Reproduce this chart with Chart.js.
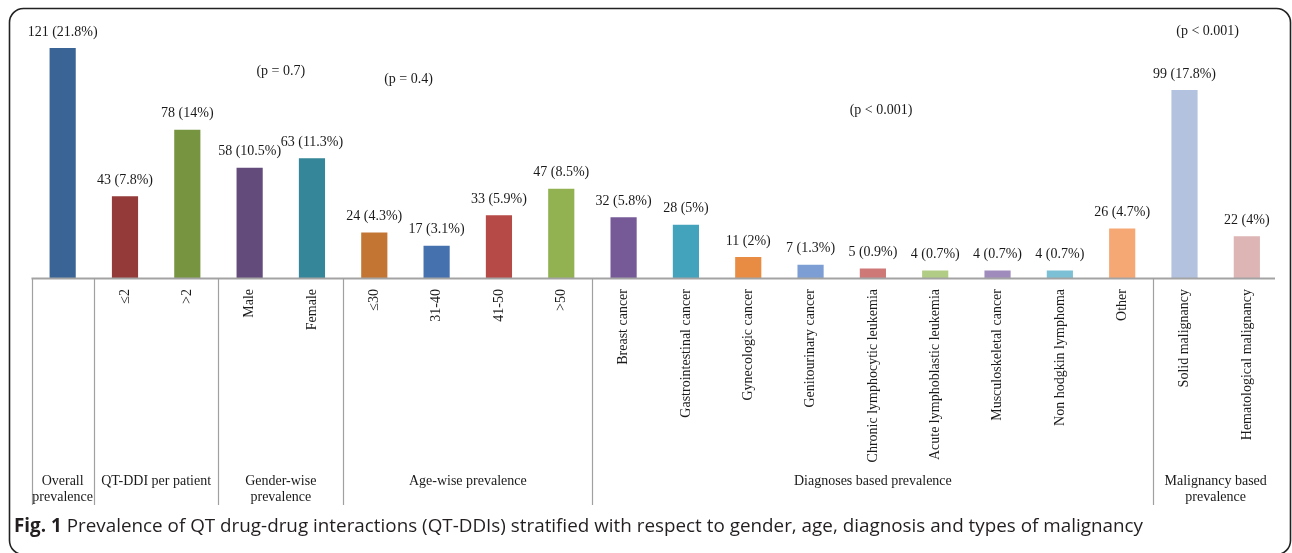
<!DOCTYPE html>
<html>
<head>
<meta charset="utf-8">
<title>Prevalence of QT-DDIs</title>
<script src="https://cdn.jsdelivr.net/npm/chart.js@4/dist/chart.umd.min.js"></script>
<style>
  html, body { margin: 0; padding: 0; background: #ffffff; }
  #wrap { position: relative; width: 1292px; height: 553px; }
</style>
</head>
<body>
<div id="wrap"><canvas id="chart" width="1292" height="553"></canvas></div>
<script>
// Categories (one bar each)
const categories = [
  'Overall', '≤2', '>2', 'Male', 'Female', '≤30', '31-40', '41-50', '>50',
  'Breast cancer', 'Gastrointestinal cancer', 'Gynecologic cancer', 'Genitourinary cancer',
  'Chronic lymphocytic leukemia', 'Acute lymphoblastic leukemia', 'Musculoskeletal cancer',
  'Non hodgkin lymphoma', 'Other', 'Solid malignancy', 'Hematological malignancy'
];
// Rotated labels under the axis (the overall bar has none)
const tickLabels = [
  '', '≤2', '>2', 'Male', 'Female', '≤30', '31-40', '41-50', '>50',
  'Breast cancer', 'Gastrointestinal cancer', 'Gynecologic cancer', 'Genitourinary cancer',
  'Chronic lymphocytic leukemia', 'Acute lymphoblastic leukemia', 'Musculoskeletal cancer',
  'Non hodgkin lymphoma', 'Other', 'Solid malignancy', 'Hematological malignancy'
];
// Number of patients with QT-DDIs and share in percent
const counts   = [121, 43, 78, 58, 63, 24, 17, 33, 47, 32, 28, 11, 7, 5, 4, 4, 4, 26, 99, 22];
const percents = ['21.8', '7.8', '14', '10.5', '11.3', '4.3', '3.1', '5.9', '8.5', '5.8',
                  '5', '2', '1.3', '0.9', '0.7', '0.7', '0.7', '4.7', '17.8', '4'];
const barColors = [
  '#3b6496', '#943a38', '#779440', '#634b7c', '#358699', '#c37634', '#4572ae', '#b64a47',
  '#92b251', '#765a98', '#43a3bc', '#e98c43', '#7c9ed4', '#cf7878', '#b0cc85', '#a08cbc',
  '#7cc0d5', '#f6a874', '#b3c3df', '#ddb5b5'
];
// Groups of bars (first and last index) and their captions
const groupStarts = [0, 1, 3, 5, 9, 18];
const groupEnds   = [0, 2, 4, 8, 17, 19];
const groupNames  = [
  ['Overall', 'prevalence'], ['QT-DDI per patient'], ['Gender-wise', 'prevalence'],
  ['Age-wise prevalence'], ['Diagnoses based prevalence'], ['Malignancy based', 'prevalence']
];
// Significance notes: text, position on the category axis, height in counts
const pTexts = ['(p = 0.7)', '(p = 0.4)', '(p < 0.001)', '(p < 0.001)'];
const pAtX   = [3.5, 5.55, 13.13, 18.37];
const pAtY   = [109, 104.7, 88, 130];

const caption = 'Prevalence of QT drug-drug interactions (QT-DDIs) stratified with respect to gender, age, diagnosis and types of malignancy';

const SERIF = '"Liberation Serif", "Times New Roman", serif';

const decorations = {
  id: 'decorations',
  afterDraw(chart) {
    const ctx = chart.ctx;
    const xs = chart.scales.x;
    const ys = chart.scales.y;
    const area = chart.chartArea;
    const base = ys.getPixelForValue(0);
    const step = xs.getPixelForValue(1) - xs.getPixelForValue(0);
    const edge = i => xs.getPixelForValue(i) - step / 2;

    ctx.save();
    // outer frame
    ctx.strokeStyle = '#222';
    ctx.lineWidth = 1.6;
    ctx.beginPath();
    ctx.roundRect(9.5, 8.5, 1281, 546, 14);
    ctx.stroke();

    // category axis line
    ctx.strokeStyle = '#a3a3a3';
    ctx.lineWidth = 2;
    ctx.beginPath();
    ctx.moveTo(edge(0), base + 0.5);
    ctx.lineTo(area.right - 3, base + 0.5);
    ctx.stroke();

    // group separators
    ctx.lineWidth = 1.2;
    ctx.strokeStyle = '#a0a0a0';
    groupStarts.forEach(s => {
      const x = Math.round(edge(s)) + 0.5;
      ctx.beginPath();
      ctx.moveTo(x, base);
      ctx.lineTo(x, 505);
      ctx.stroke();
    });

    // value labels above bars
    ctx.fillStyle = '#1a1a1a';
    ctx.font = '14px ' + SERIF;
    ctx.textAlign = 'center';
    ctx.textBaseline = 'middle';
    chart.getDatasetMeta(0).data.forEach((bar, i) => {
      ctx.fillText(counts[i] + ' (' + percents[i] + '%)', bar.x, bar.y - 16);
    });

    // significance notes
    pTexts.forEach((t, i) => {
      ctx.fillText(t, xs.getPixelForValue(pAtX[i]), ys.getPixelForValue(pAtY[i]));
    });

    // rotated category labels
    tickLabels.forEach((t, i) => {
      if (!t) return;
      ctx.save();
      ctx.translate(xs.getPixelForValue(i), base + 11);
      ctx.rotate(-Math.PI / 2);
      ctx.textAlign = 'right';
      ctx.textBaseline = 'middle';
      ctx.fillText(t, 0, 0);
      ctx.restore();
    });

    // group captions
    ctx.textAlign = 'center';
    groupNames.forEach((lines, g) => {
      const cx = (edge(groupStarts[g]) + edge(groupEnds[g] + 1)) / 2;
      lines.forEach((line, k) => ctx.fillText(line, cx, 481 + k * 16));
    });

    // figure caption
    const bold = 'bold 19px "Open Sans", "Noto Sans", sans-serif';
    const reg = '19px "Open Sans", "Noto Sans", sans-serif';
    ctx.font = bold;
    const w1 = ctx.measureText('Fig. 1 ').width;
    ctx.font = reg;
    const w2 = ctx.measureText(caption).width;
    const sx = 1129 / (w1 + w2);
    ctx.save();
    ctx.translate(14, 527);
    ctx.scale(sx, 1);
    ctx.textAlign = 'left';
    ctx.textBaseline = 'middle';
    ctx.fillStyle = '#231f20';
    ctx.font = bold;
    ctx.fillText('Fig. 1 ', 0, 0);
    ctx.font = reg;
    ctx.fillText(caption, w1, 0);
    ctx.restore();

    ctx.restore();
  }
};

new Chart(document.getElementById('chart'), {
  type: 'bar',
  data: {
    labels: categories,
    datasets: [{
      data: counts,
      backgroundColor: barColors,
      borderWidth: 0,
      barPercentage: 0.42,
      categoryPercentage: 1
    }]
  },
  options: {
    responsive: false,
    animation: false,
    layout: { padding: { left: 31.5, right: 14, top: 12, bottom: 275 } },
    plugins: { legend: { display: false }, tooltip: { enabled: false } },
    scales: {
      x: { display: false, offset: true, grid: { display: false } },
      y: { display: false, min: 0, max: 140 }
    }
  },
  plugins: [decorations]
});
</script>
</body>
</html>
